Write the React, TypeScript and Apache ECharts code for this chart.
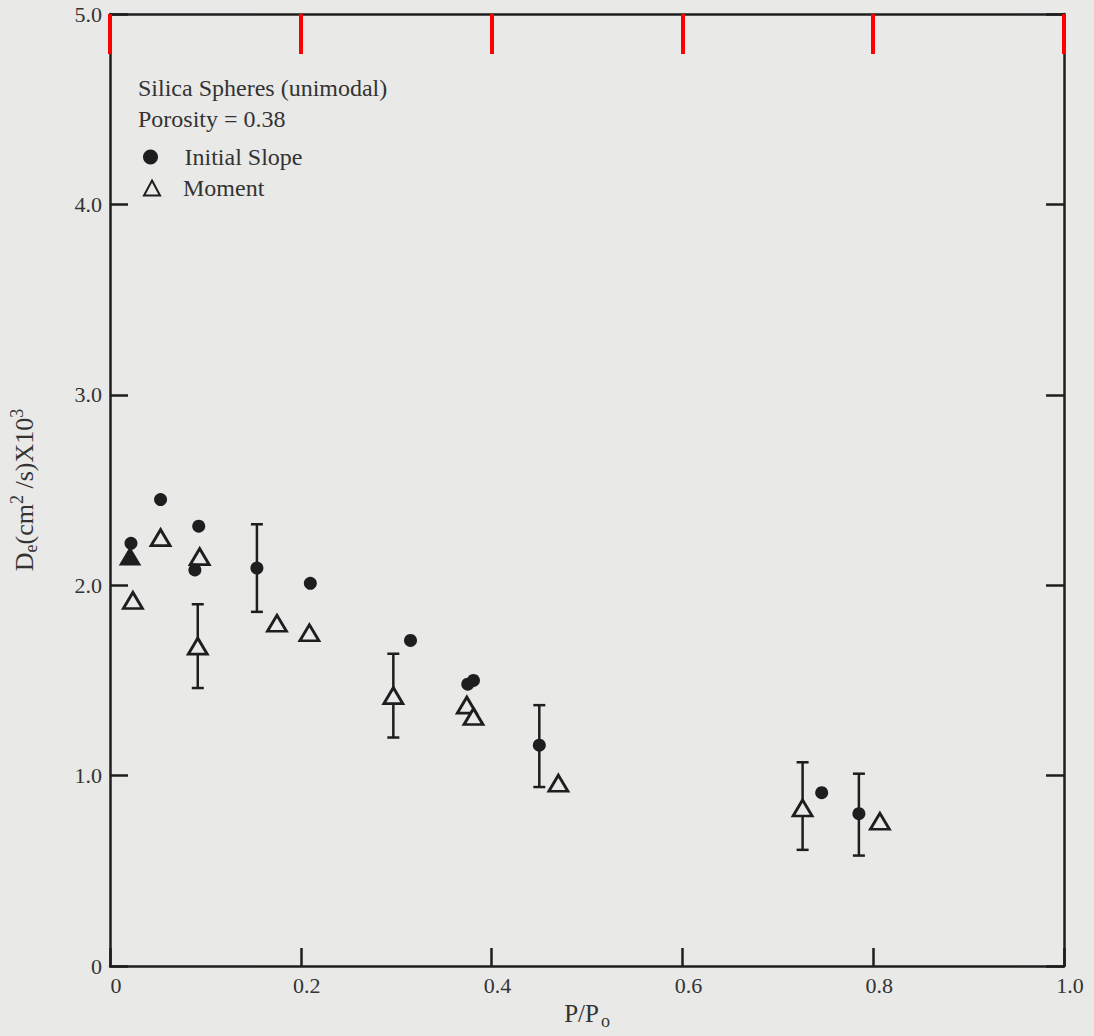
import React, { useEffect, useRef } from "react";
import * as echarts from "echarts";

// ---- data ----
const xTicks = [0, 0.2, 0.4, 0.6, 0.8, 1.0];
const yTicks = [0, 1, 2, 3, 4, 5];

const initialSlopeX = [0.022, 0.053, 0.093, 0.089, 0.154, 0.21, 0.315, 0.375, 0.381, 0.45, 0.746, 0.785];
const initialSlopeY = [2.22, 2.45, 2.31, 2.08, 2.09, 2.01, 1.71, 1.48, 1.5, 1.16, 0.91, 0.8];

const momentX = [0.024, 0.053, 0.094, 0.092, 0.175, 0.209, 0.297, 0.374, 0.381, 0.47, 0.726, 0.807];
const momentY = [1.92, 2.25, 2.15, 1.68, 1.8, 1.75, 1.42, 1.37, 1.31, 0.96, 0.83, 0.76];

const filledTriangleX = [0.021];
const filledTriangleY = [2.15];

// error bars: x, low, high
const errorX = [0.154, 0.45, 0.785, 0.092, 0.297, 0.726];
const errorLow = [1.86, 0.94, 0.58, 1.46, 1.2, 0.61];
const errorHigh = [2.32, 1.37, 1.01, 1.9, 1.64, 1.07];

const BG = "#e9e9e8";
const INK = "#1e1e1e";
const FONT = "Liberation Serif";
const TICK_LEN = 18;

export default function App() {
  const ref = useRef<HTMLDivElement>(null);

  useEffect(() => {
    if (!ref.current) return;
    const chart = echarts.init(ref.current, undefined, { renderer: "svg" });

    const axisLine = () => ({ show: true, onZero: false, lineStyle: { color: INK, width: 2.5 } });
    const axisTick = () => ({ show: true, inside: true, length: TICK_LEN, lineStyle: { color: INK, width: 2.5 } });
    const fmt = (v: number) => (v === 0 ? "0" : v.toFixed(1));
    const yMax = yTicks[yTicks.length - 1];

    const option: any = {
      animation: false,
      backgroundColor: BG,
      grid: { left: 110, right: 30, top: 14, bottom: 70, outerBoundsMode: "none" },
      xAxis: [
        {
          type: "value",
          min: xTicks[0],
          max: xTicks[xTicks.length - 1],
          interval: 0.2,
          position: "bottom",
          axisLine: axisLine(),
          axisTick: axisTick(),
          splitLine: { show: false },
          axisLabel: {
            formatter: fmt,
            fontFamily: FONT,
            fontSize: 22,
            color: "#333",
            margin: 8,
            padding: [0, 0, 0, 12],
          },
          name: "{a|P/P}{sub|o}",
          nameLocation: "middle",
          nameGap: 30,
          nameTextStyle: {
            rich: {
              a: { fontFamily: FONT, fontSize: 25, color: "#333" },
              sub: { fontFamily: FONT, fontSize: 18, color: "#333", padding: [16, 0, 0, 2] },
            },
          },
        },
        {
          type: "value",
          min: 0,
          max: 1,
          interval: 0.2,
          position: "top",
          axisLine: axisLine(),
          axisTick: { show: true, inside: true, length: 40, lineStyle: { color: "red", width: 4 } },
          axisLabel: { show: true, color: "rgba(0,0,0,0)" },
          splitLine: { show: false },
        },
      ],
      yAxis: [
        {
          type: "value",
          min: yTicks[0],
          max: yMax,
          interval: 1,
          position: "left",
          axisLine: axisLine(),
          axisTick: axisTick(),
          splitLine: { show: false },
          axisLabel: { formatter: fmt, fontFamily: FONT, fontSize: 22, color: "#333", margin: 8 },
          name: "{a|D}{sub|e}{a|(cm}{sup|2}{a| /s)X10}{sup|3}",
          nameLocation: "middle",
          nameRotate: 90,
          nameGap: 70,
          nameTextStyle: {
            rich: {
              a: { fontFamily: FONT, fontSize: 26, color: "#333" },
              sub: { fontFamily: FONT, fontSize: 18, color: "#333", padding: [14, 0, 0, 0] },
              sup: { fontFamily: FONT, fontSize: 18, color: "#333", padding: [0, 0, 14, 0] },
            },
          },
        },
        {
          type: "value",
          min: 0,
          max: 5,
          interval: 1,
          position: "right",
          axisLine: axisLine(),
          axisTick: axisTick(),
          axisLabel: { show: false },
          splitLine: { show: false },
        },
      ],
      legend: [
        {
          data: ["Initial Slope"],
          left: 138,
          top: 140,
          orient: "vertical",
          itemWidth: 16,
          itemHeight: 15,
          textStyle: { fontFamily: FONT, fontSize: 24, color: "#333", padding: [0, 0, 0, 21] },
        },
        {
          data: ["Moment"],
          left: 138,
          top: 171,
          orient: "vertical",
          itemWidth: 16,
          itemHeight: 15,
          textStyle: { fontFamily: FONT, fontSize: 24, color: "#333", padding: [0, 0, 0, 18] },
        },
      ],
      graphic: [
        {
          type: "text",
          left: 138,
          top: 76,
          style: { text: "Silica Spheres (unimodal)", font: `24px "${FONT}"`, fill: "#333" },
        },
        {
          type: "text",
          left: 138,
          top: 107,
          style: { text: "Porosity = 0.38", font: `24px "${FONT}"`, fill: "#333" },
        },
      ],
      series: [
        {
          name: "Error bars",
          type: "custom",
          z: 1,
          data: errorX.map((x, i) => [x, errorLow[i], errorHigh[i]]),
          encode: { x: 0, y: [1, 2] },
          renderItem: (params: any, api: any) => {
            const x = api.value(0);
            const lo = api.coord([x, api.value(1)]);
            const hi = api.coord([x, api.value(2)]);
            const w = 6;
            const st = { stroke: INK, lineWidth: 2.5 };
            return {
              type: "group",
              children: [
                { type: "line", shape: { x1: lo[0], y1: lo[1], x2: hi[0], y2: hi[1] }, style: st },
                { type: "line", shape: { x1: lo[0] - w, y1: lo[1], x2: lo[0] + w, y2: lo[1] }, style: st },
                { type: "line", shape: { x1: hi[0] - w, y1: hi[1], x2: hi[0] + w, y2: hi[1] }, style: st },
              ],
            };
          },
        },
        {
          name: "Moment",
          type: "scatter",
          z: 3,
          symbol: "triangle",
          symbolSize: [19, 16],
          itemStyle: { color: BG, borderColor: INK, borderWidth: 2.8, opacity: 1 },
          data: momentX.map((x, i) => [x, momentY[i]]),
        },
        {
          name: "Filled",
          type: "scatter",
          z: 3,
          symbol: "triangle",
          symbolSize: [19, 16],
          itemStyle: { color: INK, borderColor: INK, borderWidth: 2, opacity: 1 },
          data: filledTriangleX.map((x, i) => [x, filledTriangleY[i]]),
        },
        {
          name: "Initial Slope",
          type: "scatter",
          z: 4,
          symbol: "circle",
          symbolSize: 13,
          itemStyle: { color: INK, opacity: 1 },
          data: initialSlopeX.map((x, i) => [x, initialSlopeY[i]]),
        },
      ],
    };

    chart.setOption(option);
    return () => chart.dispose();
  }, []);

  return (
    <div
      ref={ref}
      style={{ position: "fixed", left: 0, top: 0, width: 1094, height: 1036, background: BG }}
    />
  );
}
